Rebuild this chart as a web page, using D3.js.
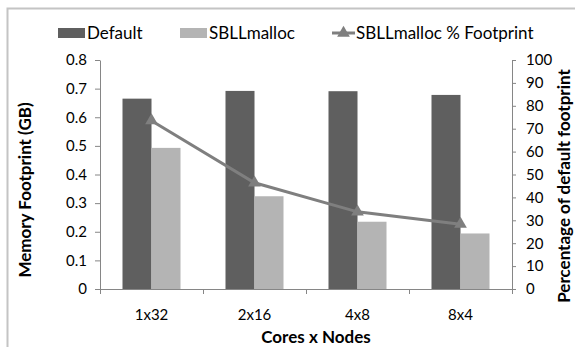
<!DOCTYPE html>
<html>
<head>
<meta charset="utf-8">
<script src="https://cdn.jsdelivr.net/npm/d3@7"></script>
<style>
  html, body { margin: 0; padding: 0; background: #fff; }
  svg { display: block; font-family: Lato, "Open Sans", sans-serif; }
</style>
</head>
<body>
<svg id="chart" width="575" height="347"></svg>
<script>
// Memory footprint per cores x nodes configuration
const categories = ["1x32", "2x16", "4x8", "8x4"];
const defaultGB = [0.665, 0.692, 0.691, 0.678];
const sbllGB = [0.493, 0.324, 0.235, 0.194];
const pctFootprint = [73.5, 46.4, 33.7, 28.3];
const leftTicks = [0, 0.1, 0.2, 0.3, 0.4, 0.5, 0.6, 0.7, 0.8];
const rightTicks = [0, 10, 20, 30, 40, 50, 60, 70, 80, 90, 100];

const svg = d3.select("#chart");
const plot = { left: 100, right: 512, top: 60, bottom: 289 };
const axisColor = "#868686";

// outer frame
svg.append("rect")
  .attr("x", 7.5).attr("y", 8.5)
  .attr("width", 600).attr("height", 400)
  .attr("fill", "none").attr("stroke", "#c4c4c4").attr("stroke-width", 2);

const x = d3.scaleBand().domain(categories).range([plot.left, plot.right]);
const yL = d3.scaleLinear().domain([0, 0.8]).range([plot.bottom, plot.top]);
const yR = d3.scaleLinear().domain([0, 100]).range([plot.bottom, plot.top]);
const barW = 29;

// bars
const g = svg.append("g");
g.selectAll("rect.def").data(categories).join("rect")
  .attr("class", "def")
  .attr("x", d => x(d) + x.bandwidth() / 2 - barW)
  .attr("width", barW)
  .attr("y", (d, i) => yL(defaultGB[i]))
  .attr("height", (d, i) => plot.bottom - yL(defaultGB[i]))
  .attr("fill", "#5f5f5f");
g.selectAll("rect.sb").data(categories).join("rect")
  .attr("class", "sb")
  .attr("x", d => x(d) + x.bandwidth() / 2)
  .attr("width", barW)
  .attr("y", (d, i) => yL(sbllGB[i]))
  .attr("height", (d, i) => plot.bottom - yL(sbllGB[i]))
  .attr("fill", "#b4b4b4");

// axes
function styleAxis(sel) {
  sel.selectAll("path, line").attr("stroke", axisColor);
  sel.selectAll("text").attr("fill", "#000").attr("font-size", 15)
     .attr("font-family", "Lato, sans-serif");
}
const leftAxis = d3.axisLeft(yL).tickValues(leftTicks)
  .tickFormat(d => d === 0 ? "0" : d3.format(".1f")(d))
  .tickSizeInner(5).tickSizeOuter(0).tickPadding(8);
svg.append("g").attr("transform", `translate(${plot.left},0)`).call(leftAxis).call(styleAxis);

const rightAxis = d3.axisRight(yR).tickValues(rightTicks)
  .tickSizeInner(4).tickSizeOuter(0).tickPadding(10);
svg.append("g").attr("transform", `translate(${plot.right},0)`).call(rightAxis).call(styleAxis);

const xAxis = d3.axisBottom(x).tickSize(0).tickPadding(20);
const xg = svg.append("g").attr("transform", `translate(0,${plot.bottom})`).call(xAxis).call(styleAxis);
xg.select(".domain").attr("d", `M${plot.left},0.5H${plot.right}`);
// category boundary ticks
const bounds = categories.map(c => x(c)).concat([plot.right]);
svg.append("g").selectAll("line").data(bounds).join("line")
  .attr("x1", d => d + 0.5).attr("x2", d => d + 0.5)
  .attr("y1", plot.bottom).attr("y2", plot.bottom + 5)
  .attr("stroke", axisColor);

// percentage line
const line = d3.line()
  .x((d, i) => x(categories[i]) + x.bandwidth() / 2)
  .y(d => yR(d));
svg.append("path").datum(pctFootprint)
  .attr("d", line).attr("fill", "none")
  .attr("stroke", "#7f7f7f").attr("stroke-width", 3);
const tri = d3.symbol().type(d3.symbolTriangle).size(70);
svg.append("g").selectAll("path").data(pctFootprint).join("path")
  .attr("d", tri)
  .attr("transform", (d, i) => `translate(${x(categories[i]) + x.bandwidth() / 2},${yR(d)})`)
  .attr("fill", "#7f7f7f");

// axis titles
svg.append("text")
  .attr("transform", "translate(31,190) rotate(-90)")
  .attr("text-anchor", "middle").attr("font-weight", "bold").attr("font-size", 17)
  .text("Memory Footprint (GB)");
svg.append("text")
  .attr("transform", "translate(570,186) rotate(-90)")
  .attr("text-anchor", "middle").attr("font-weight", "bold").attr("font-size", 17)
  .text("Percentage of default footprint");
svg.append("text")
  .attr("x", 316).attr("y", 343)
  .attr("text-anchor", "middle").attr("font-weight", "bold").attr("font-size", 17)
  .text("Cores x Nodes");

// legend
const lg = svg.append("g").attr("font-size", 17);
lg.append("rect").attr("x", 58).attr("y", 28).attr("width", 27).attr("height", 10).attr("fill", "#5f5f5f");
lg.append("text").attr("x", 87).attr("y", 39).text("Default");
lg.append("rect").attr("x", 180).attr("y", 28).attr("width", 27).attr("height", 10).attr("fill", "#b4b4b4");
lg.append("text").attr("x", 209).attr("y", 39).text("SBLLmalloc");
lg.append("line").attr("x1", 332).attr("x2", 355).attr("y1", 33).attr("y2", 33)
  .attr("stroke", "#7f7f7f").attr("stroke-width", 3);
lg.append("path").attr("d", tri).attr("transform", "translate(343.5,33)").attr("fill", "#7f7f7f");
lg.append("text").attr("x", 356).attr("y", 39).text("SBLLmalloc % Footprint");
</script>
</body>
</html>
